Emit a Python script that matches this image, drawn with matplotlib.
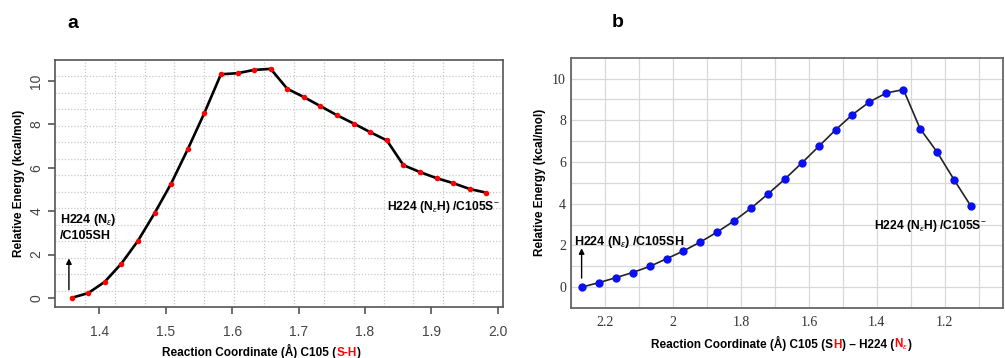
import numpy as np
import matplotlib.pyplot as plt

# -------------------------------
# Values
# -------------------------------
coord_a = [1.358, 1.383, 1.408, 1.433, 1.458, 1.483, 1.508, 1.533, 1.558,
           1.583, 1.608, 1.633, 1.658, 1.683, 1.708, 1.733, 1.758, 1.783,
           1.808, 1.833, 1.858, 1.883, 1.908, 1.933, 1.958, 1.983]
energy_a = [0.0, 0.22, 0.74, 1.58, 2.63, 3.90, 5.27, 6.85, 8.52,
            10.31, 10.36, 10.51, 10.56, 9.64, 9.26, 8.84, 8.42, 8.04,
            7.64, 7.26, 6.12, 5.80, 5.52, 5.29, 5.02, 4.85]

coord_b = [2.269, 2.219, 2.169, 2.119, 2.069, 2.019, 1.970, 1.920, 1.870,
           1.820, 1.770, 1.721, 1.671, 1.621, 1.571, 1.521, 1.472, 1.422,
           1.372, 1.322, 1.273, 1.223, 1.173, 1.124]
energy_b = [0.0, 0.21, 0.45, 0.70, 0.99, 1.36, 1.73, 2.16, 2.64,
            3.18, 3.79, 4.46, 5.18, 5.95, 6.75, 7.55, 8.27, 8.88,
            9.31, 9.47, 7.60, 6.48, 5.15, 3.90]

ticks_a_x = [1.4, 1.5, 1.6, 1.7, 1.8, 1.9, 2.0]
ticks_b_x = [2.2, 2.0, 1.8, 1.6, 1.4, 1.2]
labels_b_x = ["2.2", "2", "1.8", "1.6", "1.4", "1.2"]
ticks_y = [0, 2, 4, 6, 8, 10]

SANS = "Liberation Sans"
SERIF = "Liberation Serif"
plt.rcParams["font.family"] = SANS
plt.rcParams["mathtext.fontset"] = "custom"
plt.rcParams["mathtext.rm"] = SANS
plt.rcParams["mathtext.it"] = SANS + ":italic"
plt.rcParams["mathtext.bf"] = SANS + ":bold"

fig = plt.figure(figsize=(10.05, 3.58), dpi=100)

# -------------------------------
# Panel a
# -------------------------------
ax1 = fig.add_axes([0.0547, 0.1425, 0.4458, 0.690])
x0, x1 = 1.333, 2.008
y0, y1 = -0.42, 10.97
ax1.set_xlim(x0, x1)
ax1.set_ylim(y0, y1)
# R-style grid(15, 15): dotted, evenly splitting the plot region
for gx in np.linspace(x0, x1, 16)[1:-1]:
    ax1.axvline(gx, color="#c8c8c8", lw=0.9, ls=(0, (1, 1.5)), zorder=0)
for gy in np.linspace(y0, y1, 16)[1:-1]:
    ax1.axhline(gy, color="#c8c8c8", lw=0.9, ls=(0, (1, 1.5)), zorder=0)
ax1.plot(coord_a, energy_a, color="black", lw=1.9, zorder=2)
ax1.plot(coord_a, energy_a, "o", color="red", ms=4, mec="none", zorder=3)
ax1.set_xticks(ticks_a_x)
ax1.set_xticklabels(["%.1f" % t for t in ticks_a_x])
ax1.set_yticks(ticks_y)
ax1.tick_params(axis="both", direction="out", length=5, color="#555555",
                labelcolor="#444444", labelsize=10, width=1.2)
ax1.tick_params(axis="x", pad=8)
for lbl in ax1.get_yticklabels():
    lbl.set_rotation(90)
    lbl.set_va("center")
for sp in ax1.spines.values():
    sp.set_color("#555555")
    sp.set_linewidth(1.2)
ax1.set_ylabel("Relative Energy (kcal/mol)", fontsize=8.5, fontweight="bold",
               labelpad=3)

ax1.text(1.3405, 3.98, "H224 (N$_{\\varepsilon}$)\n/C105SH", fontsize=9,
         fontweight="bold", ha="left", va="top", linespacing=1.3)
ax1.annotate("", xy=(1.354, 1.95), xytext=(1.354, 0.25),
             arrowprops=dict(arrowstyle="-|>", color="black", lw=1.0,
                             mutation_scale=8))
ax1.text(1.8325, 4.17, "H224 (N$_{\\varepsilon}$H) /C105S$^{-}$", fontsize=8.7,
         fontweight="bold", ha="left", va="center")

# -------------------------------
# Panel b
# -------------------------------
ax2 = fig.add_axes([0.5679, 0.1397, 0.4301, 0.6991])
ax2.set_xlim(2.301, 1.029)
ax2.set_ylim(-1, 11)
ax2.set_xticks(np.arange(1.1, 2.35, 0.1), minor=True)
ax2.set_yticks(np.arange(-1, 11, 1), minor=True)
ax2.grid(True, which="both", color="#d8d8d8", lw=0.9)
ax2.set_axisbelow(True)
ax2.plot(coord_b, energy_b, color="#222222", lw=1.2, zorder=2)
ax2.plot(coord_b, energy_b, "o", color="#0a10f0", ms=6, mec="none", zorder=3)
ax2.set_xticks(ticks_b_x)
ax2.set_xticklabels(labels_b_x)
ax2.set_yticks(ticks_y)
ax2.tick_params(axis="both", which="both", length=0, labelsize=10,
                labelcolor="#333333")
ax2.tick_params(axis="x", pad=6)
for lbl in ax2.get_xticklabels() + ax2.get_yticklabels():
    lbl.set_fontfamily(SERIF)
for sp in ax2.spines.values():
    sp.set_color("#666666")
    sp.set_linewidth(1.3)
ax2.set_ylabel("Relative Energy (kcal/mol)", fontsize=8.5, fontweight="bold",
               labelpad=4)

ax2.text(2.29, 2.15, "H224 (N$_{\\varepsilon}$) /C105SH", fontsize=9,
         fontweight="bold", ha="left", va="center")
ax2.annotate("", xy=(2.269, 2.0), xytext=(2.269, 0.3),
             arrowprops=dict(arrowstyle="-|>", color="black", lw=1.0,
                             mutation_scale=8))
ax2.text(1.408, 2.95, "H224 (N$_{\\varepsilon}$H) /C105S$^{-}$", fontsize=8.7,
         fontweight="bold", ha="left", va="center")

# panel letters
fig.text(0.0727, 0.935, "a", fontsize=14, fontweight="bold", ha="center",
         va="center")
fig.text(0.615, 0.938, "b", fontsize=14, fontweight="bold", ha="center",
         va="center")

# -------------------------------
# x labels with red pieces
# -------------------------------
fig.canvas.draw()
renderer = fig.canvas.get_renderer()


def coloured_label(xc, yb, parts, size=8.5):
    # lay out the pieces side by side, centred on xc (figure fraction)
    texts = []
    for s, c in parts:
        texts.append(fig.text(0, yb, s, color=c, fontsize=size,
                              fontweight="bold", ha="left", va="baseline"))
    widths = [t.get_window_extent(renderer).width for t in texts]
    left = xc * fig.bbox.width - sum(widths) / 2
    for t, w in zip(texts, widths):
        t.set_x(left / fig.bbox.width)
        left += w


coloured_label(0.26, 0.005, [("Reaction Coordinate (Å) C105 (", "black"),
                             ("S-H", "red"), (")", "black")])
coloured_label(0.778, 0.028, [("Reaction Coordinate (Å) C105 (S", "black"),
                              ("H", "red"), (") – H224 (", "black"),
                              ("N$_{\\varepsilon}$", "red"), (")", "black")])

fig.savefig("out.png", dpi=100)
